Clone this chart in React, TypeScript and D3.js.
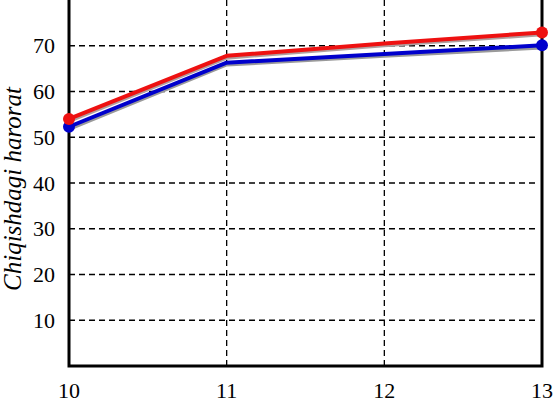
import * as d3 from "d3";
import React, { useEffect, useRef } from "react";

const xValues = [10, 11, 12, 13];
const redValues = [54, 67.8, 70.5, 72.9];
const redShadowValues = [53.6, 67.4, 70.1, 72.5];
const grayValues = [51.8, 65.9, 67.8, 69.6];
const blueValues = [52.3, 66.3, 68.2, 70.1];
const yTicks = [10, 20, 30, 40, 50, 60, 70];
const xTicks = [10, 11, 12, 13];
const yLabel = "Chiqishdagi harorat";

const FONT = "'Liberation Serif', 'Times New Roman', 'DejaVu Serif', serif";

const App = () => {
  const ref = useRef<SVGSVGElement>(null);

  useEffect(() => {
    const width = 553;
    const height = 403;
    const margin = { top: 0, right: 11, bottom: 37, left: 69 };
    const innerW = width - margin.left - margin.right;
    const innerH = height - margin.top - margin.bottom;

    const root = d3.select(ref.current);
    root.selectAll("*").remove();
    root.attr("width", width).attr("height", height);

    const svg = root
      .append("g")
      .attr("transform", `translate(${margin.left}, ${margin.top})`);

    const x = d3.scaleLinear().domain([10, 13]).range([0, innerW]);
    const y = d3.scaleLinear().domain([0, 80]).range([innerH, 0]);

    // grid
    svg
      .selectAll(".hgrid")
      .data(yTicks)
      .enter()
      .append("line")
      .attr("x1", 0)
      .attr("x2", innerW - 6)
      .attr("y1", (d) => y(d))
      .attr("y2", (d) => y(d))
      .attr("stroke", "#000")
      .attr("stroke-width", 1.3)
      .attr("stroke-dasharray", "6,4");

    svg
      .selectAll(".vgrid")
      .data([11, 12])
      .enter()
      .append("line")
      .attr("x1", (d) => x(d))
      .attr("x2", (d) => x(d))
      .attr("y1", 0)
      .attr("y2", innerH)
      .attr("stroke", "#000")
      .attr("stroke-width", 1.3)
      .attr("stroke-dasharray", "6,4");

    // frame (left, bottom, right)
    svg
      .append("path")
      .attr("d", `M0,-2V${innerH}H${innerW}V-2`)
      .attr("fill", "none")
      .attr("stroke", "#000")
      .attr("stroke-width", 3);

    const line = d3
      .line<number>()
      .x((_, i) => x(xValues[i]))
      .y((d) => y(d));

    const series = [
      { values: grayValues, color: "#9a9a9a", dots: false },
      { values: blueValues, color: "#0000cc", dots: true },
      { values: redShadowValues, color: "#b0a0a0", dots: false },
      { values: redValues, color: "#ee1111", dots: true },
    ];

    series.forEach((s) => {
      svg
        .append("path")
        .datum(s.values)
        .attr("d", line)
        .attr("fill", "none")
        .attr("stroke", s.color)
        .attr("stroke-width", 4)
        .attr("stroke-linejoin", "round");
      if (s.dots) {
        svg
          .selectAll(null)
          .data([0, s.values.length - 1])
          .enter()
          .append("circle")
          .attr("cx", (i) => x(xValues[i]))
          .attr("cy", (i) => y(s.values[i]))
          .attr("r", 6)
          .attr("fill", s.color);
      }
    });

    // tick labels
    svg
      .selectAll(".ylab")
      .data(yTicks)
      .enter()
      .append("text")
      .attr("x", -14)
      .attr("y", (d) => y(d))
      .attr("dy", "0.35em")
      .attr("text-anchor", "end")
      .style("font-family", FONT)
      .style("font-size", "22px")
      .text((d) => d);

    svg
      .selectAll(".xlab")
      .data(xTicks)
      .enter()
      .append("text")
      .attr("x", (d) => x(d))
      .attr("y", innerH + 32)
      .attr("text-anchor", "middle")
      .style("font-family", FONT)
      .style("font-size", "22px")
      .text((d) => d);

    svg
      .append("text")
      .attr("transform", `translate(${-48}, ${189}) rotate(-90)`)
      .attr("text-anchor", "middle")
      .style("font-family", FONT)
      .style("font-style", "italic")
      .style("font-size", "25px")
      .text(yLabel);
  }, []);

  return (
    <svg
      ref={ref}
      style={{ position: "absolute", left: 0, top: 0, display: "block" }}
    ></svg>
  );
};

export default App;
